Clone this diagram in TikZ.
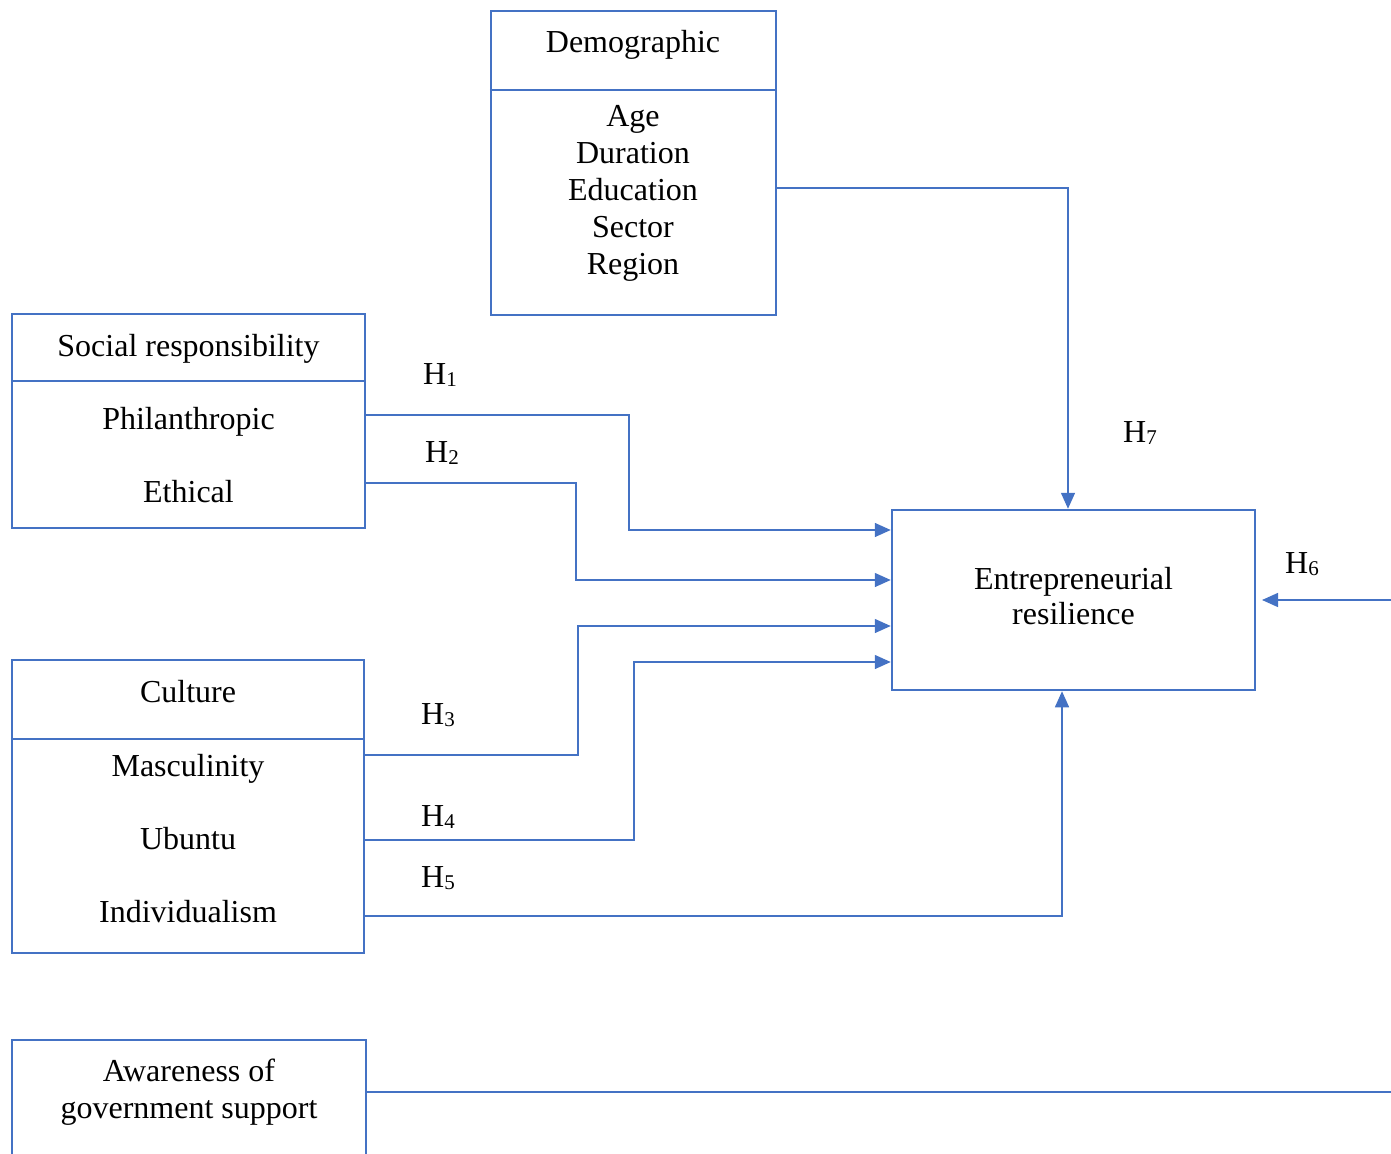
\documentclass[tikz,border=0pt]{standalone}
\usepackage{fontspec}
\setmainfont{Liberation Serif}
\usetikzlibrary{arrows.meta}
\definecolor{bl}{HTML}{4472C4}
\newcommand{\hyp}[1]{H\raisebox{-2pt}{\fontsize{21}{21}\selectfont #1}}
\begin{document}
\begin{tikzpicture}[x=1pt,y=-1pt,
  box/.style={draw=bl,line width=2.5pt,inner sep=0pt,fill=none},
  divider/.style={draw=bl,line width=2.5pt},
  txt/.style={font=\fontsize{32}{37}\selectfont,inner sep=0pt,anchor=base},
  conn/.style={draw=bl,line width=1.5pt},
  arr/.style={conn,-{Triangle[length=16pt,width=14pt]}},
  hlab/.style={txt}]
\useasboundingbox (0,0) rectangle (1391,1153);
\clip (0,0) rectangle (1391,1153);

% boxes
\node[box,minimum width=285pt,minimum height=304pt] (demo) at (633.5,163) {};
\node[box,minimum width=353pt,minimum height=214pt] (soc) at (188.5,421) {};
\node[box,minimum width=352pt,minimum height=293pt] (cult) at (188,806.5) {};
\node[box,minimum width=354pt,minimum height=240pt] (aware) at (189,1160) {};
\node[box,minimum width=363pt,minimum height=180pt] (er) at (1073.5,600) {};

% dividers
\draw[divider] (demo.west |- 0,90) -- (demo.east |- 0,90);
\draw[divider] (soc.west |- 0,381) -- (soc.east |- 0,381);
\draw[divider] (cult.west |- 0,739) -- (cult.east |- 0,739);

% texts
\node[txt] (tdemo) at (633,53) {Demographic};
\node[txt] (tage) at (633,126) {Age};
\node[txt] (tdur) at (633,163) {Duration};
\node[txt] (tedu) at (633,200) {Education};
\node[txt] (tsec) at (633,237) {Sector};
\node[txt] (treg) at (633,274) {Region};

\node[txt] (tsoc) at (188.5,356) {Social responsibility};
\node[txt] (tphil) at (188.5,429) {Philanthropic};
\node[txt] (teth) at (188.5,502) {Ethical};

\node[txt] (tcult) at (188,702) {Culture};
\node[txt] (tmasc) at (188,776) {Masculinity};
\node[txt] (tubu) at (188,849) {Ubuntu};
\node[txt] (tind) at (188,922) {Individualism};

\node[txt] (taw1) at (189,1081) {Awareness of};
\node[txt] (taw2) at (189,1118) {government support};

\node[txt] (ter1) at (1073.5,589) {Entrepreneurial};
\node[txt] (ter2) at (1073.5,624) {resilience};

% hypothesis labels
\node[hlab] (h1) at (440,384) {\hyp{1}};
\node[hlab] (h2) at (442,462) {\hyp{2}};
\node[hlab] (h3) at (438,724) {\hyp{3}};
\node[hlab] (h4) at (438,826) {\hyp{4}};
\node[hlab] (h5) at (438,887) {\hyp{5}};
\node[hlab] (h7) at (1140,442) {\hyp{7}};
\node[hlab] (h6) at (1302,573) {\hyp{6}};

% connectors
\draw[arr] (demo.east |- 0,188) -| (er.north -| 1068,0);
\draw[arr] (soc.east |- 0,415) -| (629,472) |- (er.west |- 0,530);
\draw[arr] (soc.east |- 0,483) -| (576,530) |- (er.west |- 0,580);
\draw[arr] (cult.east |- 0,755) -| (578,690) |- (er.west |- 0,626);
\draw[arr] (cult.east |- 0,840) -| (634,750) |- (er.west |- 0,662);
\draw[arr] (cult.east |- 0,916) -| (er.south -| 1062,0);
\coordinate (h6src) at (1395,600);
\coordinate (h6tip) at (1262,600);
\draw[arr] (h6src) -- (h6tip);
\coordinate (awend) at (1395,1092);
\draw[conn] (aware.east |- 0,1092) -- (awend);
\end{tikzpicture}
\end{document}
